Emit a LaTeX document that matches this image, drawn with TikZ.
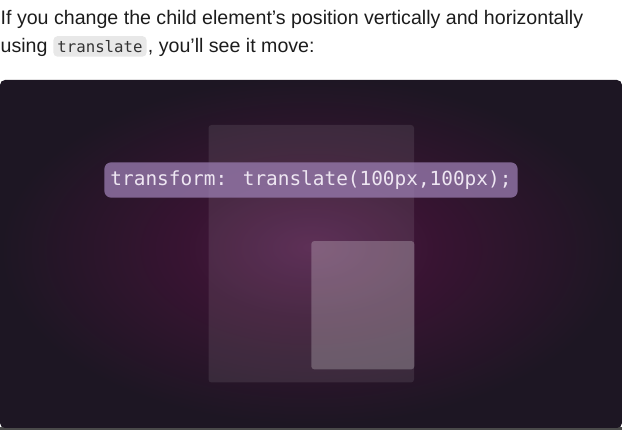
\documentclass[tikz,border=0pt]{standalone}
\usepackage{fontspec}
\setmainfont{Liberation Sans}
\newfontfamily\codefont{DejaVu Sans Mono}
\usetikzlibrary{positioning}

\definecolor{inktext}{HTML}{1C1C1C}
\definecolor{chipgray}{HTML}{E8E8E8}
\definecolor{chiptext}{HTML}{333333}
\definecolor{glowin}{HTML}{4E1C47}
\definecolor{glowmid}{HTML}{381432}
\definecolor{glowout}{HTML}{1D1623}
\definecolor{labelfill}{HTML}{977AAD}
\definecolor{labeltext}{HTML}{EEE6F2}
\definecolor{edgegray}{HTML}{4A4A4A}

\pgfdeclareradialshading{panelglow}{\pgfpoint{0bp}{1bp}}{%
  color(0bp)=(glowin); color(10bp)=(glowmid); color(25bp)=(glowout); color(50bp)=(glowout)}

\begin{document}
\begin{tikzpicture}[x=1pt, y=-1pt,
        body/.style      = {inner sep=0pt, text=inktext, font=\fontsize{19.6}{23}\selectfont},
        chip/.style      = {fill=chipgray, rounded corners=4pt, inner xsep=4pt, inner ysep=0pt,
                            minimum height=20.5pt, text=chiptext,
                            font=\codefont\fontsize{15.7}{18}\selectfont},
        panel/.style     = {rounded corners=5pt, shading=panelglow, inner sep=0pt,
                            minimum width=622pt, minimum height=348pt},
        parentbox/.style = {fill=white, fill opacity=0.09, rounded corners=3pt, inner sep=0pt,
                            minimum width=205.5pt, minimum height=257.5pt},
        childbox/.style  = {fill=white, fill opacity=0.23, rounded corners=3pt, inner sep=0pt,
                            minimum width=103pt, minimum height=128.3pt},
        codelabel/.style = {fill=labelfill, fill opacity=0.78, text opacity=1, text=labeltext,
                            rounded corners=7pt, inner sep=0pt,
                            minimum width=413.4pt, minimum height=35.4pt,
                            font=\codefont\fontsize{19.4}{22}\selectfont},
    ]
        \useasboundingbox (0,0) rectangle (622,430);

        % ---- text above the demo ----
        \node (line1) [body, anchor=base west] at (0.5,24.3)
            {If you change the child element’s position vertically and horizontally};
        \node (using) [body, anchor=base west] at (0.5,52.3) {using};
        \node (chipword) [chip, anchor=base west, xshift=5.5pt] at (using.base east) {translate};
        \node (rest) [body, anchor=base west, xshift=1pt] at (chipword.base east)
            {, you’ll see it move:};

        % ---- demo panel ----
        \fill[edgegray] (0,427.5) rectangle (622,430);
        \node (demo) [panel] at (311,254) {};

        % ---- parent and translated child ----
        \node (parent) [parentbox] at (311.25,253.75) {};
        \node (child) [childbox] at (362.8,305.2) {};

        % ---- css label ----
        \node (css) [codelabel] at (311,180) {transform: translate(100px,100px);};
\end{tikzpicture}
\end{document}
